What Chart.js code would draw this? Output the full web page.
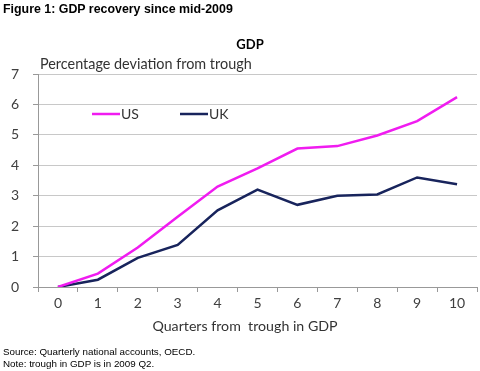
<!DOCTYPE html>
<html>
<head>
<meta charset="utf-8">
<script src="https://cdn.jsdelivr.net/npm/chart.js@4.4.1/dist/chart.umd.min.js"></script>
<style>
  body { margin: 0; background: #fff; }
  #wrap { position: relative; width: 480px; height: 371px; }
  #grafica { position: absolute; left: 0; top: 0; }
  .txt { position: absolute; font-family: "Liberation Sans", Arial, sans-serif; color: #000; white-space: nowrap; }
</style>
</head>
<body>
<div id="wrap">
  <canvas id="grafica" width="480" height="371"></canvas>
  <div class="txt" style="left:3px; top:2px; font-size:12.4px; font-weight:bold;">Figure 1: GDP recovery since mid-2009</div>
  <div class="txt" style="left:3px; top:346px; font-size:9.8px;">Source: Quarterly national accounts, OECD.</div>
  <div class="txt" style="left:3px; top:358px; font-size:9.8px;">Note: trough in GDP is in 2009 Q2.</div>
</div>
<script>
// datos
const trimestres = ["0", "1", "2", "3", "4", "5", "6", "7", "8", "9", "10"];
const us = [0, 0.44, 1.3, 2.31, 3.3, 3.9, 4.55, 4.63, 4.98, 5.45, 6.24];
const uk = [0, 0.24, 0.96, 1.38, 2.52, 3.2, 2.7, 3.0, 3.04, 3.6, 3.38];
const yTicks = [0, 1, 2, 3, 4, 5, 6, 7];

const fuente = "Lato, 'Open Sans', sans-serif";

// leyenda y textos dibujados en el canvas
const textos = {
  id: "textos",
  afterDraw(chart) {
    const c = chart.ctx;
    const a = chart.chartArea;
    c.save();
    c.fillStyle = "#000";
    c.font = "bold 13px " + fuente;
    c.textAlign = "center";
    c.textBaseline = "middle";
    c.fillText("GDP", 250, 45);

    // titulo eje x
    c.fillStyle = "#333";
    c.font = "14.2px " + fuente;
    c.fillText("Quarters from  trough in GDP", 245, 326);

    c.font = "14.4px " + fuente;
    c.textAlign = "left";
    c.fillText("Percentage deviation from trough", a.left + 2, 64);

    // leyenda
    const items = chart.data.datasets;
    const xs = [92, 180];
    items.forEach((ds, i) => {
      c.strokeStyle = ds.borderColor;
      c.lineWidth = 2.5;
      c.beginPath();
      c.moveTo(xs[i], 114);
      c.lineTo(xs[i] + 28, 114);
      c.stroke();
      c.fillStyle = "#333";
      c.font = "14px " + fuente;
      c.fillText(ds.label, xs[i] + 29, 114);
    });
    c.restore();
  }
};

const ctx = document.getElementById("grafica").getContext("2d");

const chart = new Chart(ctx, {
  type: "line",
  data: {
    labels: trimestres,
    datasets: [
      { label: "US", data: us, borderColor: "#f01cf0", borderWidth: 2.5, pointRadius: 0, tension: 0 },
      { label: "UK", data: uk, borderColor: "#18245c", borderWidth: 2.5, pointRadius: 0, tension: 0 }
    ]
  },
  options: {
    responsive: false,
    animation: false,
    layout: { padding: { top: 74, right: 3, bottom: 24, left: 0 } },
    plugins: { legend: { display: false }, tooltip: { enabled: false } },
    scales: {
      x: {
        offset: true,
        grid: { offset: true, drawOnChartArea: false, tickLength: 5, color: "#999" },
        border: { color: "#999" },
        ticks: { color: "#404040", font: { family: fuente, size: 14 }, padding: 3, maxRotation: 0 },
        afterFit(s) { s.height = 60; }
      },
      y: {
        min: 0,
        max: 7,
        afterBuildTicks(s) { s.ticks = yTicks.map(v => ({ value: v })); },
        grid: { color: "#c8c8c8", tickLength: 5, tickColor: "#999" },
        border: { color: "#999" },
        ticks: { color: "#404040", font: { family: fuente, size: 14 }, padding: 14 },
        afterFit(s) { s.width = 38; }
      }
    }
  },
  plugins: [textos]
});
</script>
</body>
</html>
